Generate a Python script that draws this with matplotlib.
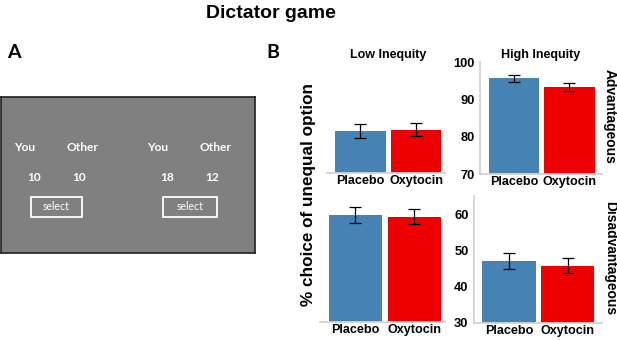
import matplotlib
matplotlib.use("Agg")
import matplotlib.pyplot as plt
from matplotlib.patches import Rectangle

# ---- data ----
groups = ["Placebo", "Oxytocin"]
low_adv = [81.3, 81.7]
low_adv_err = [1.9, 1.8]
high_adv = [95.6, 93.4]
high_adv_err = [1.0, 1.1]
low_dis = [59.8, 59.3]
low_dis_err = [2.2, 2.2]
high_dis = [47.0, 45.8]
high_dis_err = [2.3, 2.2]
adv_ticks = [70, 80, 90, 100]
dis_ticks = [30, 40, 50, 60]
bar_colors = ["#4682B4", "#EE0000"]

plt.rcParams['font.family'] = ['Liberation Sans', 'DejaVu Sans']

W, H = 617, 340
fig = plt.figure(figsize=(W / 100, H / 100), dpi=100)

def fx(x):
    return x / W

def fy(y):
    return 1 - y / H

# ---- titles / panel letters ----
fig.text(fx(270.5), fy(14), "Dictator game", ha="center", va="center",
         fontsize=14, fontweight="bold")
fig.text(fx(14), fy(53), "A", ha="center", va="center", fontsize=14,
         fontweight="bold", family=['Lato', 'DejaVu Sans'])
fig.text(fx(273), fy(53), "B", ha="center", va="center", fontsize=14,
         fontweight="bold", family=['Lato', 'DejaVu Sans'])

# ---- panel A: screen mock-up ----
axA = fig.add_axes([fx(1), fy(253), fx(254), (253 - 97) / H])
axA.set_xlim(1, 255)
axA.set_ylim(253, 97)
axA.set_facecolor("#808080")
for s in axA.spines.values():
    s.set_color("#202020")
    s.set_linewidth(1.2)
axA.set_xticks([])
axA.set_yticks([])
lab_font = dict(family=['Lato', 'DejaVu Sans'], color="white", fontweight="bold",
                fontsize=8.6, ha="center", va="center")
for x, t in [(25, "You"), (82, "Other"), (158, "You"), (215, "Other")]:
    axA.text(x, 147, t, **lab_font)
for x, t in [(34, "10"), (79, "10"), (167, "18"), (212, "12")]:
    axA.text(x, 177, t, **lab_font)
for x0, x1 in [(31, 82), (163, 217)]:
    axA.add_patch(Rectangle((x0, 197), x1 - x0, 20, fill=False,
                            edgecolor="white", linewidth=1.3))
    axA.text((x0 + x1) / 2, 207, "select", family=['Lato', 'DejaVu Sans'],
             color="white", fontsize=7.6, ha="center", va="center")

# ---- panel B ----
def bar_panel(rect, vals, errs, ylim, ticks, show_y, xlim):
    ax = fig.add_axes(rect)
    ax.bar(range(len(groups)), vals, width=0.91, color=bar_colors,
           yerr=errs, capsize=4, error_kw=dict(ecolor="black", elinewidth=0.9,
                                               capthick=0.9))
    ax.set_ylim(*ylim)
    ax.set_xlim(*xlim)
    ax.set_xticks(range(len(groups)))
    ax.set_xticklabels(groups, fontsize=9.1, fontweight="bold")
    ax.tick_params(axis="x", length=0, pad=1.5)
    for s in ["top", "right"]:
        ax.spines[s].set_visible(False)
    ax.spines["bottom"].set_color("#d3d3d3")
    ax.spines["bottom"].set_linewidth(1.3)
    if show_y:
        ax.set_yticks(ticks)
        ax.set_yticklabels([str(t) for t in ticks], fontsize=9.3, fontweight="bold")
        ax.tick_params(axis="y", length=0, pad=4)
        ax.spines["left"].set_color("#d3d3d3")
        ax.spines["left"].set_linewidth(1.3)
    else:
        ax.set_yticks([])
        ax.spines["left"].set_visible(False)
    return ax

ax1 = bar_panel([fx(327), fy(173), fx(118), (173 - 62) / H], low_adv, low_adv_err,
                (70, 100), adv_ticks, False, (-0.6, 1.52))
ax2 = bar_panel([fx(480), fy(174), fx(122), (174 - 62) / H], high_adv, high_adv_err,
                (70, 100), adv_ticks, True, (-0.61, 1.59))
ax3 = bar_panel([fx(320), fy(322), fx(125), (322 - 196) / H], low_dis, low_dis_err,
                (30, 65), dis_ticks, False, (-0.6, 1.52))
ax4 = bar_panel([fx(474), fy(322.7), fx(128), (322.7 - 196) / H], high_dis, high_dis_err,
                (30, 65), dis_ticks, True, (-0.6, 1.59))

fig.text(fx(388), fy(55), "Low Inequity", ha="center", va="center",
         fontsize=9, fontweight="bold")
fig.text(fx(541), fy(55), "High Inequity", ha="center", va="center",
         fontsize=9, fontweight="bold")

fig.text(fx(308), fy(195), "% choice of unequal option", rotation=90,
         ha="center", va="center", fontsize=12.3, fontweight="bold")
fig.text(fx(610), fy(116.5), "Advantageous", rotation=-90,
         ha="center", va="center", fontsize=9.9, fontweight="bold")
fig.text(fx(610), fy(258.5), "Disadvantageous", rotation=-90,
         ha="center", va="center", fontsize=9.9, fontweight="bold")

fig.savefig("out.png", dpi=100)
